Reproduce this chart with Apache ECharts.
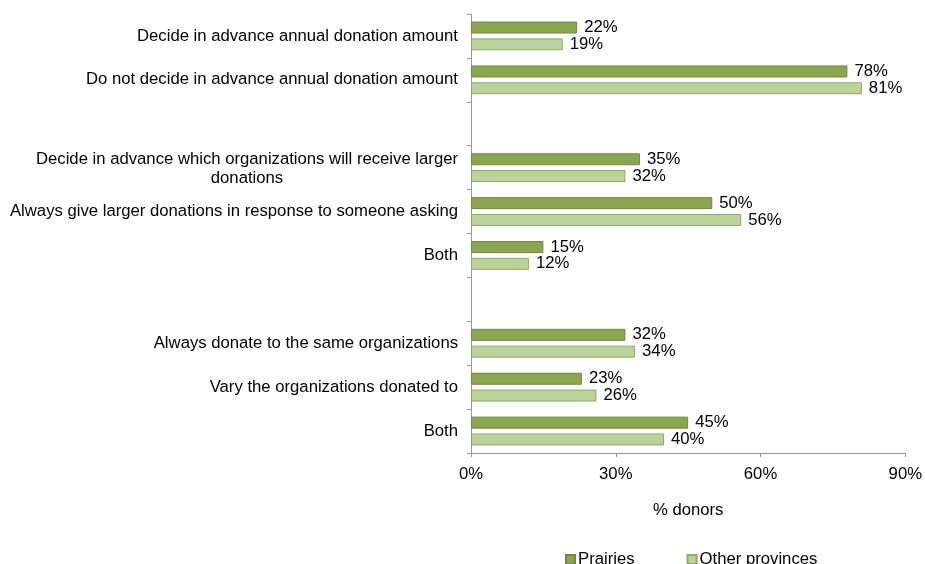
<!DOCTYPE html>
<html><head><meta charset="utf-8">
<script src="https://cdn.jsdelivr.net/npm/echarts@6/dist/echarts.min.js"></script>
<style>html,body{margin:0;padding:0;background:#fff}#c{width:925px;height:564px}</style>
</head><body><div id="c"></div>
<script>
const categories = [
  'Decide in advance annual donation amount',
  'Do not decide in advance annual donation amount',
  '',
  'Decide in advance which organizations will receive larger\ndonations',
  'Always give larger donations in response to someone asking',
  'Both',
  ' ',
  'Always donate to the same organizations',
  'Vary the organizations donated to',
  'Both'
];
const prairies = [22, 78, null, 35, 50, 15, null, 32, 23, 45];
const otherProvinces = [19, 81, null, 32, 56, 12, null, 34, 26, 40];
const xTicks = [0, 30, 60, 90];

const font = 'Liberation Sans, Arial, sans-serif';
const fs = 16.7;
const chart = echarts.init(document.getElementById('c'));
chart.setOption({
  animation: false,
  textStyle: { fontFamily: font },
  grid: { left: 471, right: 17, top: 14, bottom: 111, containLabel: false },
  legend: {
    left: 560, top: 546, itemWidth: 9, itemHeight: 9, itemGap: 52, icon: 'rect',
    textStyle: { fontSize: fs, color: '#000', fontFamily: font, padding: [0, 0, 0, -2] },
    data: ['Prairies', 'Other provinces']
  },
  xAxis: {
    type: 'value', min: xTicks[0], max: xTicks[xTicks.length - 1], interval: 30,
    name: '% donors', nameLocation: 'middle', nameGap: 49,
    nameTextStyle: { fontSize: fs, color: '#000', fontFamily: font },
    axisLine: { show: true, lineStyle: { color: '#999' } },
    axisTick: { show: true, length: 4, lineStyle: { color: '#999' } },
    axisLabel: { fontSize: fs, color: '#000', margin: 13, formatter: '{value}%', fontFamily: font },
    splitLine: { show: false }
  },
  yAxis: {
    type: 'category', inverse: true, data: categories,
    axisLine: { show: true, lineStyle: { color: '#999' } },
    axisTick: { show: true, length: 4, lineStyle: { color: '#999' } },
    axisLabel: {
      fontSize: fs, color: '#000', margin: 13, fontFamily: font, lineHeight: 19,
      formatter: v => v.indexOf('\n') >= 0 ? '{c|' + v + '}' : v,
      rich: { c: { align: 'center', fontSize: fs, color: '#000', fontFamily: font, lineHeight: 19, padding: [3, 0, 0, 0] } }
    }
  },
  series: [
    {
      name: 'Prairies', type: 'bar', data: prairies, barWidth: 12, barGap: '40%',
      itemStyle: { color: '#8AA650', borderColor: '#6F8A3E', borderWidth: 1 },
      label: { show: true, position: 'right', distance: 7, formatter: '{c}%', fontSize: fs, color: '#000', fontFamily: font }
    },
    {
      name: 'Other provinces', type: 'bar', data: otherProvinces, barWidth: 12,
      itemStyle: { color: '#BCD29B', borderColor: '#8FAA66', borderWidth: 1 },
      label: { show: true, position: 'right', distance: 7, formatter: '{c}%', fontSize: fs, color: '#000', fontFamily: font }
    }
  ]
});
</script></body></html>
